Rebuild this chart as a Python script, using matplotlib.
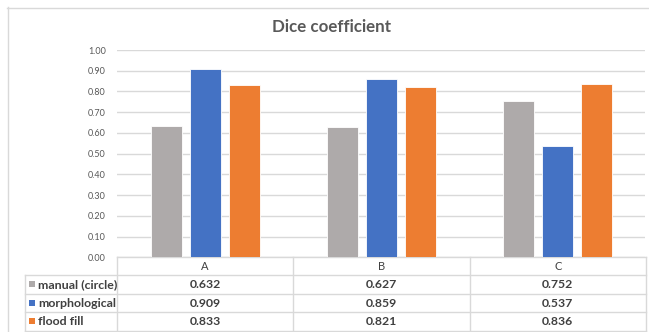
import matplotlib
matplotlib.use("Agg")
import matplotlib.pyplot as plt
import numpy as np

categories = ["A", "B", "C"]
series_names = ["manual (circle)", "morphological", "flood fill"]
manual_circle = [0.632, 0.627, 0.752]
morphological = [0.909, 0.859, 0.537]
flood_fill = [0.833, 0.821, 0.836]
y_ticks = [0.0, 0.1, 0.2, 0.3, 0.4, 0.5, 0.6, 0.7, 0.8, 0.9, 1.0]
title = "Dice coefficient"

series = [manual_circle, morphological, flood_fill]
colors = ["#AEAAAA", "#4472C4", "#ED7D31"]
text_col = "#595959"
grid_col = "#D9D9D9"
FONT = "Lato"

W, H = 649, 332
fig = plt.figure(figsize=(W / 100, H / 100), dpi=100)
fig.patch.set_facecolor("white")

# pixel-space overlay for frame, title and data table
ov = fig.add_axes([0, 0, 1, 1])
ov.set_xlim(0, W)
ov.set_ylim(H, 0)
ov.axis("off")

# chart area frame
ov.plot([7, W], [7.5, 7.5], color=grid_col, lw=1.0)
ov.plot([7.5, 7.5], [7, H], color=grid_col, lw=1.0)

ov.text(332, 27, title, ha="center", va="center", fontsize=12.2,
        fontweight="bold", color=text_col, family=FONT)

# plot area
x_left, x_right = 117, 645
y_top, y_bot = 50, 257.3
ax = fig.add_axes([x_left / W, (H - y_bot) / H, (x_right - x_left) / W,
                   (y_bot - y_top) / H])
ax.set_xlim(0, len(categories))
ax.set_ylim(0, 1.0)
ax.set_yticks(y_ticks)
ax.set_yticklabels([f"{t:.2f}" for t in y_ticks])
ax.tick_params(axis="y", length=0, pad=8, labelsize=6.5, labelcolor=text_col)
for lbl in ax.get_yticklabels():
    lbl.set_family(FONT)
ax.set_xticks([])
ax.grid(axis="y", color=grid_col, lw=1.0)
ax.set_axisbelow(True)
for s in ax.spines.values():
    s.set_visible(False)
ax.patch.set_alpha(0)

centers = np.arange(len(categories)) + 0.5
bar_w = 31 / 176
step = 39 / 176
for i, (vals, c) in enumerate(zip(series, colors)):
    ax.bar(centers + (i - 1) * step, vals, width=bar_w, color=c,
           edgecolor="white", linewidth=0.6, zorder=3)

# data table below the plot
col_w = (x_right + 1 - x_left) / len(categories)
row_edges = [257.3, 275, 293.5, 312, 330.5]
tbl_left = 25
lw = 1.0
# horizontal lines
ov.plot([x_left, x_right + 1], [row_edges[0]] * 2, color=grid_col, lw=lw)
for y in row_edges[1:]:
    ov.plot([tbl_left, x_right + 1], [y, y], color=grid_col, lw=lw)
# vertical lines
ov.plot([tbl_left, tbl_left], [row_edges[1], row_edges[-1]], color=grid_col, lw=lw)
for j in range(len(categories) + 1):
    x = x_left + j * col_w
    ov.plot([x, x], [row_edges[0], row_edges[-1]], color=grid_col, lw=lw)

for j, cat in enumerate(categories):
    ov.text(x_left + (j + 0.5) * col_w, (row_edges[0] + row_edges[1]) / 2 + 0.5,
            cat, ha="center", va="center", fontsize=8, color="#404040", family=FONT)

for i, (name, vals, c) in enumerate(zip(series_names, series, colors)):
    yc = (row_edges[i + 1] + row_edges[i + 2]) / 2
    ov.add_patch(plt.Rectangle((29, yc - 3), 6, 6, color=c, lw=0))
    ov.text(38.5, yc + 0.5, name, ha="left", va="center", fontsize=8.9,
            fontweight="bold", color="#404040", family=FONT)
    for j, v in enumerate(vals):
        ov.text(x_left + (j + 0.5) * col_w, yc + 0.5, f"{v:.3f}", ha="center",
                va="center", fontsize=8.8, fontweight="bold", color="#404040",
                family=FONT)

fig.savefig("out.png", dpi=100)
